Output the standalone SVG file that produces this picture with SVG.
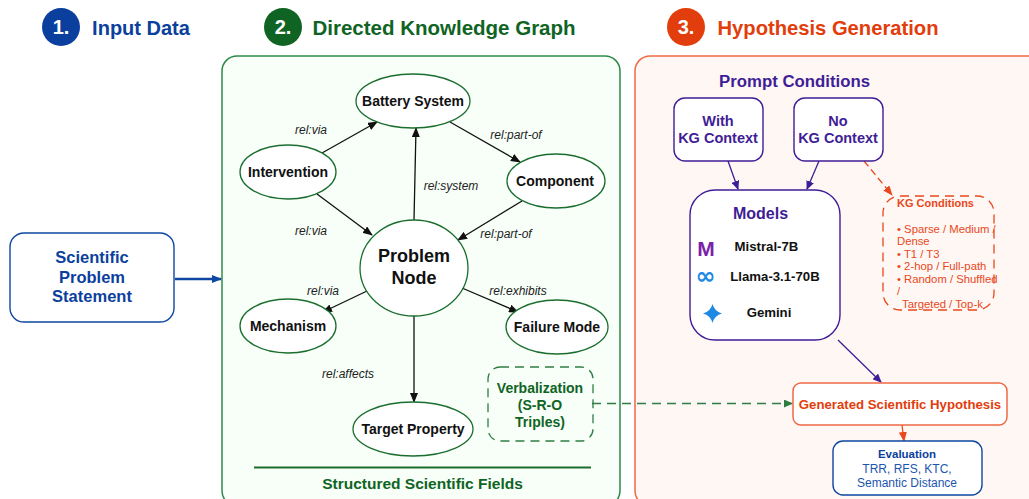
<svg xmlns="http://www.w3.org/2000/svg" width="1029" height="499" viewBox="0 0 1029 499">
<style>
text{font-family:"Liberation Sans",Arial,sans-serif;text-anchor:middle}
.h{font-weight:700}
.n{font-size:20px;font-weight:700;fill:#fff}
.e{fill:#fff;stroke:#1b6e2e;stroke-width:1.3}
.l{font-size:14px;font-weight:700;fill:#111}
.r{font-size:12px;font-style:italic;fill:#222}
.c{stroke:#111;stroke-width:1.3;fill:none;marker-end:url(#ak)}
.p{stroke:#3f1d96;stroke-width:1.3;fill:none;marker-end:url(#ap)}
.pb{fill:#fff;stroke:#3f1d96;stroke-width:1.4}
.pt{font-size:14.500px;font-weight:700;fill:#3f1d96}
.m{font-size:13.200px;font-weight:700;fill:#111}
.o text{font-size:11.300px;fill:#e8481c;text-anchor:start}
</style>
<defs>
<marker id="ak" markerWidth="10" markerHeight="8" refX="9" refY="4" orient="auto" markerUnits="userSpaceOnUse"><path d="M0 0L10 4L0 8z" fill="#111"/></marker>
<marker id="ap" markerWidth="9" markerHeight="8" refX="8" refY="4" orient="auto" markerUnits="userSpaceOnUse"><path d="M0 0L9 4L0 8z" fill="#3f1d96"/></marker>
<marker id="ao" markerWidth="10" markerHeight="8" refX="9" refY="4" orient="auto" markerUnits="userSpaceOnUse"><path d="M0 0L10 4L0 8z" fill="#e8481c"/></marker>
<marker id="ag" markerWidth="9" markerHeight="8" refX="8" refY="4" orient="auto" markerUnits="userSpaceOnUse"><path d="M0 0L9 4L0 8z" fill="#2f7d43"/></marker>
<marker id="ab" markerWidth="10" markerHeight="8" refX="9" refY="4" orient="auto" markerUnits="userSpaceOnUse"><path d="M0 0L10 4L0 8z" fill="#0d47a1"/></marker>
</defs>
<rect width="1029" height="499" fill="#fff"/>

<g id="headers">
<circle cx="61" cy="27" r="19" fill="#0b3f9e"/><text class="n" x="61" y="34">1.</text>
<text class="h" x="141" y="35" font-size="20" fill="#0b3f9e">Input Data</text>
<circle cx="283" cy="27" r="19" fill="#0f6424"/><text class="n" x="283" y="34">2.</text>
<text class="h" x="444" y="35" font-size="20.500" fill="#0f6424">Directed Knowledge Graph</text>
<circle cx="686" cy="27" r="19" fill="#e23d0c"/><text class="n" x="686" y="34">3.</text>
<text class="h" x="828" y="35" font-size="20.200" fill="#e23d0c">Hypothesis Generation</text>
</g>

<g id="panels">
<rect x="222" y="56" width="398" height="450" rx="15" fill="#f7fff8" stroke="#2f8a4a" stroke-width="1.5"/>
<rect x="635" y="56" width="420" height="450" rx="15" fill="#fff7f4" stroke="#ee6a45" stroke-width="1.5"/>
</g>

<g id="connectors">
<path d="M175 279H221" stroke="#0d47a1" stroke-width="2.500" fill="none" marker-end="url(#ab)"/>
<path class="c" d="M322 153L377 122"/>
<path class="c" d="M317 194L372 235"/>
<path class="c" d="M414 220L416 128"/>
<path class="c" d="M450 122L520 162"/>
<path class="c" d="M522 201L458 240"/>
<path class="c" d="M367 291L323 312"/>
<path class="c" d="M462 288L518 312"/>
<path class="c" d="M414 315V402"/>
<path class="p" d="M728 161L738 189"/>
<path class="p" d="M819 161L807 189"/>
<path class="p" d="M838 340L881 382"/>
<path d="M864 161L892 195" stroke="#e8481c" stroke-width="1.300" stroke-dasharray="7 4" fill="none" marker-end="url(#ao)"/>
<path d="M592 403.500H792" stroke="#2f7d43" stroke-width="1.400" stroke-dasharray="9 6" fill="none" marker-end="url(#ag)"/>
<path d="M902 425L904 441" stroke="#e8481c" stroke-width="1.300" fill="none" marker-end="url(#ao)"/>
</g>

<g id="edge-labels">
<text class="r" x="311" y="134">rel:via</text>
<text class="r" x="311" y="235">rel:via</text>
<text class="r" x="451" y="190">rel:system</text>
<text class="r" x="516" y="139">rel:part-of</text>
<text class="r" x="506" y="238">rel:part-of</text>
<text class="r" x="323" y="295">rel:via</text>
<text class="r" x="518" y="295">rel:exhibits</text>
<text class="r" x="348" y="378">rel:affects</text>
</g>

<g id="n-input"><rect x="10" y="233" width="164" height="89" rx="14" fill="#fff" stroke="#0d47a1" stroke-width="1.400"/>
<g font-size="16.500" font-weight="700" fill="#0b3f9e"><text x="92" y="263">Scientific</text><text x="92" y="283">Problem</text><text x="92" y="302">Statement</text></g></g>

<g id="n-battery"><ellipse class="e" cx="413" cy="101" rx="57" ry="27"/><text class="l" x="413" y="106">Battery System</text></g>
<g id="n-intervention"><ellipse class="e" cx="288" cy="172" rx="48" ry="27"/><text class="l" x="288" y="177">Intervention</text></g>
<g id="n-component"><ellipse class="e" cx="556" cy="181" rx="49" ry="27"/><text class="l" x="555" y="186" font-size="13.800">Component</text></g>
<g id="n-problem"><ellipse class="e" cx="414" cy="268" rx="54" ry="48" stroke-width="2"/><g font-size="18" font-weight="700" fill="#111"><text x="414" y="262">Problem</text><text x="414" y="284">Node</text></g></g>
<g id="n-mechanism"><ellipse class="e" cx="288" cy="326" rx="48" ry="27"/><text class="l" x="288" y="331">Mechanism</text></g>
<g id="n-failure"><ellipse class="e" cx="557" cy="327" rx="51" ry="27"/><text class="l" x="557" y="332">Failure Mode</text></g>
<g id="n-target"><ellipse class="e" cx="413" cy="429" rx="60" ry="27"/><text class="l" x="413" y="434">Target Property</text></g>

<g id="n-verbalization"><rect x="488" y="367" width="105" height="74" rx="12" fill="none" stroke="#2f7d43" stroke-width="1.300" stroke-dasharray="9 6"/>
<g font-size="14" font-weight="700" fill="#0f6424"><text x="540" y="393">Verbalization</text><text x="540" y="410">(S-R-O</text><text x="540" y="427">Triples)</text></g></g>

<g id="fields"><path d="M254 467.500H591" stroke="#1b6e2e" stroke-width="2"/><text x="422.500" y="489" font-size="15.500" font-weight="700" fill="#0f6424">Structured Scientific Fields</text></g>

<g id="n-prompt"><text x="794.500" y="87" font-size="16.800" font-weight="700" fill="#3f1d96">Prompt Conditions</text></g>
<g id="n-with"><rect x="674" y="98" width="89" height="63" rx="11" class="pb"/><text class="pt" x="718" y="126">With</text><text class="pt" x="718" y="143">KG Context</text></g>
<g id="n-no"><rect x="794" y="98" width="89" height="63" rx="11" class="pb"/><text class="pt" x="838" y="126">No</text><text class="pt" x="838" y="143">KG Context</text></g>

<g id="n-models"><rect x="690" y="190" width="150" height="150" rx="25" class="pb"/>
<text x="760.500" y="219" font-size="16" font-weight="700" fill="#3f1d96">Models</text>
<text x="706" y="256" font-size="21" font-weight="700" fill="#7b22a8">M</text>
<text class="m" x="766.500" y="251">Mistral-7B</text>
<text x="705.500" y="284" font-size="24" font-weight="700" fill="#1e88e5" style="font-family:'DejaVu Sans',sans-serif">∞</text>
<text class="m" x="775" y="281">Llama-3.1-70B</text>
<path d="M712.500 304Q714.500 311.500 722 313.500Q714.500 315.500 712.500 323Q710.500 315.500 703 313.500Q710.500 311.500 712.500 304Z" fill="#1e88e5"/>
<text class="m" x="769" y="317">Gemini</text></g>

<g id="n-kg"><rect x="883" y="196" width="111" height="114" rx="17" fill="none" stroke="#e8481c" stroke-width="1.300" stroke-dasharray="9 6"/>
<text x="897" y="207" font-size="11" font-weight="700" fill="#e8481c" style="text-anchor:start">KG Conditions</text>
<g class="o"><text x="897" y="233">• Sparse / Medium /</text><text x="897" y="245">Dense</text><text x="897" y="257.500">• T1 / T3</text><text x="897" y="270">• 2-hop / Full-path</text><text x="897" y="282.500">• Random / Shuffled</text><text x="897" y="295">/</text><text x="902" y="307.500">Targeted / Top-k</text></g></g>

<g id="n-hypothesis"><rect x="793" y="383" width="214" height="42" rx="8" fill="#fff" stroke="#ee6a45" stroke-width="1.500"/><text x="900" y="409" font-size="13.200" font-weight="700" fill="#e23d0c">Generated Scientific Hypothesis</text></g>

<g id="n-evaluation"><rect x="833" y="441" width="149" height="54" rx="10" fill="#fff" stroke="#0d47a1" stroke-width="1.400"/>
<text x="907" y="458" font-size="11.500" font-weight="700" fill="#0b3f9e">Evaluation</text>
<g font-size="12" fill="#1a56b0"><text x="907" y="473">TRR, RFS, KTC,</text><text x="907" y="487">Semantic Distance</text></g></g>
</svg>
